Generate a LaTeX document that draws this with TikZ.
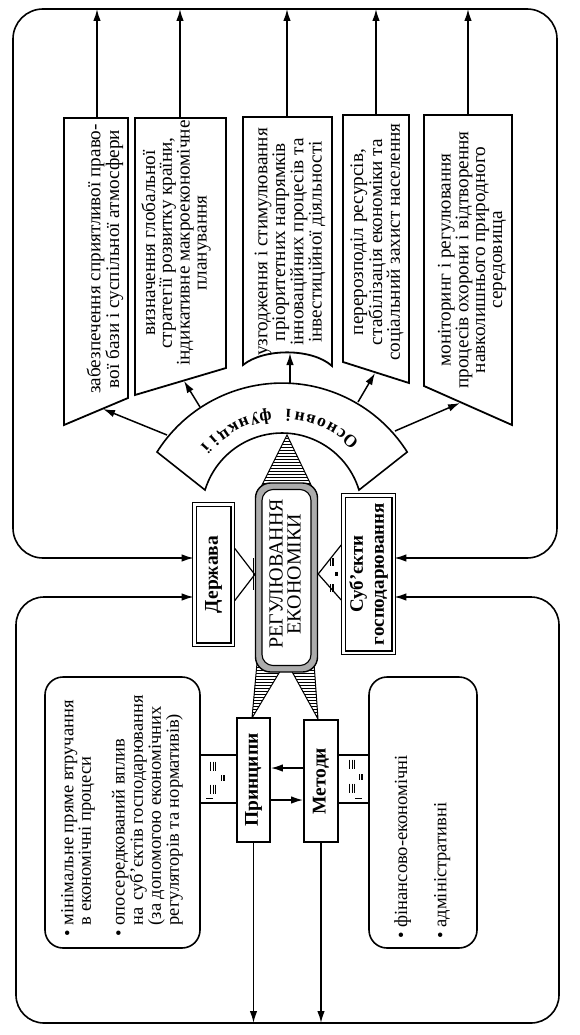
\documentclass[tikz,border=0pt]{standalone}
\usepackage{fontspec}
\setmainfont{Liberation Serif}
\usetikzlibrary{arrows.meta,calc}
\begin{document}
\begin{tikzpicture}[x=1pt,y=-1pt,
  frame/.style={line width=1.6pt},
  arr/.style={line width=1.5pt,-{Latex[length=12pt,width=7.5pt]}},
  barr/.style={line width=1.6pt,{Latex[length=12pt,width=7.5pt]}-{Latex[length=12pt,width=7.5pt]}},
  fbox/.style={line width=1.8pt,fill=white},
  ftext/.style={rotate=90,align=center,inner sep=0pt,font=\fontsize{19.2}{16.8}\selectfont},
  btext/.style={rotate=90,align=center,inner sep=0pt,font=\fontsize{19.5}{21}\selectfont\bfseries},
  dbox/.style={draw,double=white,double distance=2.4pt,line width=1.2pt,fill=white,inner sep=0pt},
  sbox/.style={draw,line width=1.8pt,fill=white,inner sep=0pt},
  hatchln/.style={line width=0.6pt},
  tick/.style={line width=0.8pt},
  eqv/.pic={\draw[tick] (-2.2,-4.5) -- (-2.2,4.5) (0,-4.5) -- (0,4.5) (2.2,-4.5) -- (2.2,4.5);}
]
\useasboundingbox (0,0) rectangle (580,1035);

% helper levels
\coordinate (yU) at (0,558);
\coordinate (yL) at (0,597);
\coordinate (yT) at (0,9);
\coordinate (yB) at (0,1023);
\coordinate (yA1) at (0,768);
\coordinate (yA2) at (0,800);

% ---------- function boxes ----------
\draw[fbox] (64,118) -- (128,118) -- (128,398) -- (64,425) -- cycle;
\draw[fbox] (135,118) -- (226,118) -- (226,368) -- (135,395) -- cycle;
\draw[fbox] (243,117) -- (332,117) -- (332,366) .. controls (312,348) and (264,348) .. (243,365) -- cycle;
\draw[fbox] (343,115) -- (409,115) -- (409,383) -- (343,362) -- cycle;
\draw[fbox] (424,115) -- (512,115) -- (512,425) -- (424,386) -- cycle;

\node[ftext] (t1) at (105,259) {забезпечення сприятливої право-\\вої бази і суспільної атмосфери};
\node[ftext] (t2) at (176,243) {визначення глобальної\\стратегії розвитку країни,\\індикативне макроекономічне\\планування};
\node[ftext] (t3) at (290,242) {узгодження і стимулювання\\пріоритетних напрямків\\інноваційних процесів та\\інвестиційної діяльності};
\node[ftext] (t4) at (377,242) {перерозподіл ресурсів,\\стабілізація економіки та\\соціальний захист населення};
\node[ftext] (t5) at (472,260) {моніторинг і регулювання\\процесів охорони і відтворення\\навколишнього природного\\середовища};

\coordinate (f1) at (97,118);
\coordinate (f2) at (180,118);
\coordinate (f3) at (287,117);
\coordinate (f4) at (376,115);
\coordinate (f5) at (468,115);
\foreach \f in {f1,f2,f3,f4,f5} \draw[arr] (\f) -- (\f |- yT);

% ---------- arc "Основні функції" ----------
\draw[fbox,line width=1.6pt] (157,452) arc[start angle=212.3, end angle=327.7, radius=148]
  -- (359,490) arc[start angle=343, end angle=197, radius=80.5] -- cycle;
\foreach \ch/\k in {О/0,с/1,н/2,о/3,в/4,н/5,і/6,ф/8,у/9,н/10,к/11,ц/12,і/13,ї/14}{
  \pgfmathsetmacro\ang{48.3+6.36*\k}
  \pgfmathsetmacro\rot{\ang+90}
  \node[rotate=\rot,inner sep=0pt,font=\fontsize{17.5}{17.5}\selectfont\bfseries] (of\k)
     at ({282+103*cos(\ang)},{518-103*sin(\ang)}) {\ch};
}
\coordinate (a1s) at (167,435); \coordinate (a1e) at (103,409);
\coordinate (a2s) at (200,407); \coordinate (a2e) at (184,381);
\coordinate (a3s) at (290,383); \coordinate (a3e) at (290,353);
\coordinate (a4s) at (358,402); \coordinate (a4e) at (375,373);
\coordinate (a5s) at (395,431); \coordinate (a5e) at (460,403);
\foreach \i in {1,...,5} \draw[arr] (a\i s) -- (a\i e);

% ---------- hatched triangles ----------
\draw[line width=1pt,fill=white] (287,435) -- (261,487) -- (312,487) -- cycle;
\begin{scope}
  \clip (287,435) -- (261,487) -- (312,487) -- cycle;
  \foreach \yy in {438,441,...,487} \draw[hatchln] (250,\yy) -- (320,\yy);
\end{scope}
\draw[line width=1pt,fill=white] (257,663) -- (282,668) -- (252,718) -- cycle;
\begin{scope}
  \clip (257,663) -- (282,668) -- (252,718) -- cycle;
  \foreach \yy in {664,667,...,718} \draw[hatchln] (245,\yy) -- (290,\yy);
\end{scope}
\draw[line width=1pt,fill=white] (290,668) -- (314,663) -- (318,719) -- cycle;
\begin{scope}
  \clip (290,668) -- (314,663) -- (318,719) -- cycle;
  \foreach \yy in {664,667,...,719} \draw[hatchln] (285,\yy) -- (325,\yy);
\end{scope}

% ---------- central box ----------
\node[draw,line width=1.4pt,fill=gray!65,rounded corners=15pt,minimum width=62pt,minimum height=189pt,inner sep=0pt] (RegO) at (286.5,577.5) {};
\node[draw,line width=1.1pt,fill=white,rounded corners=11pt,minimum width=49pt,minimum height=176pt,inner sep=0pt] (Reg) at (286.5,577.5) {};
\node[rotate=90,align=center,inner sep=0pt,font=\fontsize{20}{18}\selectfont] (RegT) at (285,574) {РЕГУЛЮВАННЯ\\ЕКОНОМІКИ};

% ---------- Держава / Суб'єкти ----------
\node[dbox,minimum width=38.4pt,minimum height=140.4pt] (Derzh) at (213.5,574.5) {};
\node[btext] (DerzhT) at (Derzh.center) {Держава};
\node[dbox,minimum width=50.4pt,minimum height=157.4pt] (Subj) at (368.5,574) {};
\node[btext,font=\fontsize{19}{21}\selectfont\bfseries] (SubjT) at (Subj.center) {Суб’єкти\\господарювання};

\draw[line width=1.2pt] ($(Derzh.east)+(1.5,-26)$) -- (RegO.west |- Derzh.east) -- ($(Derzh.east)+(1.5,26)$);
\draw[line width=1.2pt] ($(Subj.west)+(-1.5,-29)$) -- (RegO.east |- Subj.west) -- ($(Subj.west)+(-1.5,26)$);
\draw[tick,line width=0.6pt] (253,558) -- (253,590);
\pic[scale=0.8] at (332,562) {eqv};
\pic[scale=0.5] at (336,574) {eqv};
\pic[scale=0.8] at (332,588) {eqv};

% ---------- frames ----------
\draw[barr,rounded corners=30pt] (Derzh.west |- yU) -- (13,558) -- (13,9) -- (557,9) -- (557,558) -- (Subj.east |- yU);
\draw[barr,rounded corners=28pt] (Derzh.west |- yL) -- (16,597) -- (16,1023) -- (559,1023) -- (559,597) -- (Subj.east |- yL);

% ---------- lower part ----------
\node[sbox,line width=1.5pt,minimum width=37pt,minimum height=48pt] (cL) at (218.5,779) {};
\node[sbox,line width=1.5pt,minimum width=31pt,minimum height=48pt] (cR) at (353.5,779) {};
\pic at (213,766) {eqv};
\pic[scale=0.6] at (223,778) {eqv};
\pic at (213,789) {eqv};
\draw[tick] (206,798) -- (213,798);
\pic at (352,764) {eqv};
\pic[scale=0.6] at (361,777) {eqv};
\pic at (352,788) {eqv};
\draw[tick] (355,798) -- (362,798);

\node[draw,line width=1.6pt,rounded corners=18pt,minimum width=155pt,minimum height=271pt,fill=white,inner sep=0pt] (PB) at (122.5,812.5) {};
\node[draw,line width=1.6pt,rounded corners=18pt,minimum width=108pt,minimum height=271pt,fill=white,inner sep=0pt] (MB) at (423,812.5) {};

\node[rotate=90,anchor=north west,inner sep=0pt,font=\fontsize{18.5}{17}\selectfont] (PBt) at (61,937) {%
\begin{tabular}{@{}l@{\hspace{5pt}}l@{}}
\textbullet & мінімальне пряме втручання\\
 & в економічні процеси\\[16pt]
\textbullet & опосередкований вплив\\
 & на\hspace{7pt}суб’єктів господарювання\\
 & (за допомогою економічних\\
 & регуляторів та нормативів)
\end{tabular}};
\node[rotate=90,anchor=north west,inner sep=0pt,font=\fontsize{18.5}{17}\selectfont] (MBt) at (394,939) {%
\begin{tabular}{@{}l@{\hspace{5pt}}l@{}}
\textbullet & фінансово-економічні\\[22pt]
\textbullet & адміністративні
\end{tabular}};

\node[sbox,minimum width=33pt,minimum height=124pt] (Princ) at (253.5,780) {};
\node[btext] (PrincT) at (Princ.center) {Принципи};
\node[sbox,minimum width=34pt,minimum height=122pt] (Meth) at (321,781) {};
\node[btext] (MethT) at (Meth.center) {Методи};

\draw[arr] (Meth.west |- yA1) -- (Princ.east |- yA1);
\draw[arr] (Princ.east |- yA2) -- (Meth.west |- yA2);
\draw[arr] (Princ.south) -- (Princ.south |- yB);
\draw[arr] (Meth.south) -- (Meth.south |- yB);
\end{tikzpicture}
\end{document}
